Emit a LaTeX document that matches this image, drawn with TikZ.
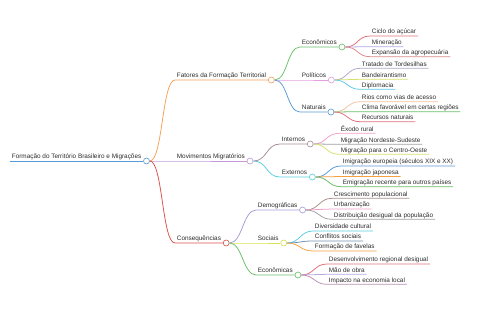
\documentclass[tikz,border=0pt]{standalone}
\usepackage{fontspec}
\setmainfont{Liberation Sans}
\usepackage{xcolor}
\usetikzlibrary{positioning}

\definecolor{ink}{HTML}{2B2B2B}
\definecolor{cRoot}{HTML}{5B9BD5}
\definecolor{cFat}{HTML}{F4A259}
\definecolor{cMov}{HTML}{C49BD8}
\definecolor{cCon}{HTML}{D9534F}
\definecolor{cGreen}{HTML}{6ABF69}
\definecolor{cPink}{HTML}{E39FE0}
\definecolor{cBlue}{HTML}{5A9BD4}
\definecolor{cMauve}{HTML}{A88E9E}
\definecolor{cCyan}{HTML}{5ACFE0}
\definecolor{cLav}{HTML}{A99BD8}
\definecolor{cYel}{HTML}{D8E050}
\definecolor{cRed}{HTML}{E0707A}
\definecolor{cLilac}{HTML}{B7A6E0}
\definecolor{cRose}{HTML}{D98A8A}
\definecolor{cGrayLav}{HTML}{B0A8C8}
\definecolor{cLime}{HTML}{D6E06A}
\definecolor{cSky}{HTML}{5CC8E8}
\definecolor{cPeach}{HTML}{F5C2A0}
\definecolor{cCandy}{HTML}{F2A0C8}
\definecolor{cGray}{HTML}{A0A0A0}
\definecolor{cOrange}{HTML}{F5A040}
\definecolor{cBrown}{HTML}{A89088}
\definecolor{cSteel}{HTML}{7090B0}
\definecolor{cPlum}{HTML}{B890B0}

\begin{document}
\begin{tikzpicture}[
    x=0.05cm, y=-0.05cm,
    topic/.style={anchor=south west, inner xsep=2.5pt, inner ysep=1.2pt, text height=1.55ex, text depth=.35ex, text=ink, font=\fontsize{9.1}{10}\selectfont},
    dot/.style={circle, anchor=west, draw=#1, fill=white, line width=0.9pt, minimum size=0.3cm, inner sep=0pt},
    link/.style={line width=1.1pt, line join=round, draw=#1}
]
    \useasboundingbox (0,0) rectangle (480,320);

    % root and main branches
    \node (root) [topic] at (10,161) {Formação do Território Brasileiro e Migrações};
    \node (root_c) [dot=cRoot] at (root.south east) {};
    \node (fatores) [topic] at (175,80) {Fatores da Formação Territorial};
    \node (fatores_c) [dot=cFat] at (fatores.south east) {};
    \node (movim) [topic] at (175,161) {Movimentos Migratórios};
    \node (movim_c) [dot=cMov] at (movim.south east) {};
    \node (conseq) [topic] at (175,243) {Consequências};
    \node (conseq_c) [dot=cCon] at (conseq.south east) {};

    % second level
    \node (econ) [topic] at (300,47) {Econômicos};
    \node (econ_c) [dot=cGreen] at (econ.south east) {};
    \node (polit) [topic] at (300,80) {Políticos};
    \node (polit_c) [dot=cPink] at (polit.south east) {};
    \node (natur) [topic] at (300,112) {Naturais};
    \node (natur_c) [dot=cBlue] at (natur.south east) {};
    \node (intern) [topic] at (280,144) {Internos};
    \node (intern_c) [dot=cMauve] at (intern.south east) {};
    \node (extern) [topic] at (280,177) {Externos};
    \node (extern_c) [dot=cCyan] at (extern.south east) {};
    \node (demog) [topic] at (256,210) {Demográficas};
    \node (demog_c) [dot=cLav] at (demog.south east) {};
    \node (socia) [topic] at (256,243) {Sociais};
    \node (socia_c) [dot=cYel] at (socia.south east) {};
    \node (econo) [topic] at (256,275) {Econômicas};
    \node (econo_c) [dot=cGreen] at (econo.south east) {};

    % leaves
    \node (acucar) [topic] at (370,36) {Ciclo do açúcar};
    \node (minera) [topic] at (370,46.7) {Mineração};
    \node (agro) [topic] at (370,56.7) {Expansão da agropecuária};
    \node (tordes) [topic] at (360,68.3) {Tratado de Tordesilhas};
    \node (bandei) [topic] at (360,79.3) {Bandeirantismo};
    \node (diplo) [topic] at (360,89.3) {Diplomacia};
    \node (rios) [topic] at (360,101.7) {Rios como vias de acesso};
    \node (clima) [topic] at (360,111.7) {Clima favorável em certas regiões};
    \node (recur) [topic] at (360,121.7) {Recursos naturais};
    \node (exodo) [topic] at (339,133.3) {Êxodo rural};
    \node (ne_se) [topic] at (339,144.3) {Migração Nordeste-Sudeste};
    \node (c_oeste) [topic] at (339,154.3) {Migração para o Centro-Oeste};
    \node (europ) [topic] at (341,166) {Imigração europeia (séculos XIX e XX)};
    \node (japon) [topic] at (341,176.5) {Imigração japonesa};
    \node (emigr) [topic] at (341,186.7) {Emigração recente para outros países};
    \node (cresc) [topic] at (332,198.3) {Crescimento populacional};
    \node (urban) [topic] at (332,209) {Urbanização};
    \node (distr) [topic] at (332,219.3) {Distribuição desigual da população};
    \node (divers) [topic] at (313,231) {Diversidade cultural};
    \node (confl) [topic] at (313,241) {Conflitos sociais};
    \node (favel) [topic] at (313,251) {Formação de favelas};
    \node (desenv) [topic] at (327,264) {Desenvolvimento regional desigual};
    \node (mao) [topic] at (327,274.3) {Mão de obra};
    \node (impac) [topic] at (327,284.3) {Impacto na economia local};

    % connectors
    \draw [link=cRoot] (root.south west) -- (root.south east);
    \draw [link=cFat] (root_c.east) .. controls +(13,0) and +(-13,0) .. (fatores.south west) -- (fatores.south east);
    \draw [link=cMov] (root_c.east) .. controls +(13,0) and +(-13,0) .. (movim.south west) -- (movim.south east);
    \draw [link=cCon] (root_c.east) .. controls +(13,0) and +(-13,0) .. (conseq.south west) -- (conseq.south east);

    \draw [link=cGreen] (fatores_c.east) .. controls +(13,0) and +(-13,0) .. (econ.south west) -- (econ.south east);
    \draw [link=cPink] (fatores_c.east) .. controls +(13,0) and +(-13,0) .. (polit.south west) -- (polit.south east);
    \draw [link=cBlue] (fatores_c.east) .. controls +(13,0) and +(-13,0) .. (natur.south west) -- (natur.south east);
    \draw [link=cMauve] (movim_c.east) .. controls +(14,0) and +(-14,0) .. (intern.south west) -- (intern.south east);
    \draw [link=cCyan] (movim_c.east) .. controls +(14,0) and +(-14,0) .. (extern.south west) -- (extern.south east);
    \draw [link=cLav] (conseq_c.east) .. controls +(13,0) and +(-13,0) .. (demog.south west) -- (demog.south east);
    \draw [link=cYel] (conseq_c.east) .. controls +(13,0) and +(-13,0) .. (socia.south west) -- (socia.south east);
    \draw [link=cGreen] (conseq_c.east) .. controls +(13,0) and +(-13,0) .. (econo.south west) -- (econo.south east);

    \draw [link=cRed] (econ_c.east) .. controls +(13,0) and +(-13,0) .. (acucar.south west) -- (acucar.south east);
    \draw [link=cLilac] (econ_c.east) .. controls +(13,0) and +(-13,0) .. (minera.south west) -- (minera.south east);
    \draw [link=cRose] (econ_c.east) .. controls +(13,0) and +(-13,0) .. (agro.south west) -- (agro.south east);
    \draw [link=cGrayLav] (polit_c.east) .. controls +(13,0) and +(-13,0) .. (tordes.south west) -- (tordes.south east);
    \draw [link=cLime] (polit_c.east) .. controls +(13,0) and +(-13,0) .. (bandei.south west) -- (bandei.south east);
    \draw [link=cSky] (polit_c.east) .. controls +(13,0) and +(-13,0) .. (diplo.south west) -- (diplo.south east);
    \draw [link=cPeach] (natur_c.east) .. controls +(13,0) and +(-13,0) .. (rios.south west) -- (rios.south east);
    \draw [link=cGreen] (natur_c.east) .. controls +(13,0) and +(-13,0) .. (clima.south west) -- (clima.south east);
    \draw [link=cRed] (natur_c.east) .. controls +(13,0) and +(-13,0) .. (recur.south west) -- (recur.south east);
    \draw [link=cCandy] (intern_c.east) .. controls +(13,0) and +(-13,0) .. (exodo.south west) -- (exodo.south east);
    \draw [link=cGray] (intern_c.east) .. controls +(13,0) and +(-13,0) .. (ne_se.south west) -- (ne_se.south east);
    \draw [link=cLime] (intern_c.east) .. controls +(13,0) and +(-13,0) .. (c_oeste.south west) -- (c_oeste.south east);
    \draw [link=cBlue] (extern_c.east) .. controls +(13,0) and +(-13,0) .. (europ.south west) -- (europ.south east);
    \draw [link=cOrange] (extern_c.east) .. controls +(13,0) and +(-13,0) .. (japon.south west) -- (japon.south east);
    \draw [link=cGreen] (extern_c.east) .. controls +(13,0) and +(-13,0) .. (emigr.south west) -- (emigr.south east);
    \draw [link=cBrown] (demog_c.east) .. controls +(13,0) and +(-13,0) .. (cresc.south west) -- (cresc.south east);
    \draw [link=cCandy] (demog_c.east) .. controls +(13,0) and +(-13,0) .. (urban.south west) -- (urban.south east);
    \draw [link=cGray] (demog_c.east) .. controls +(13,0) and +(-13,0) .. (distr.south west) -- (distr.south east);
    \draw [link=cCyan] (socia_c.east) .. controls +(13,0) and +(-13,0) .. (divers.south west) -- (divers.south east);
    \draw [link=cSteel] (socia_c.east) .. controls +(13,0) and +(-13,0) .. (confl.south west) -- (confl.south east);
    \draw [link=cOrange] (socia_c.east) .. controls +(13,0) and +(-13,0) .. (favel.south west) -- (favel.south east);
    \draw [link=cRed] (econo_c.east) .. controls +(13,0) and +(-13,0) .. (desenv.south west) -- (desenv.south east);
    \draw [link=cLilac] (econo_c.east) .. controls +(13,0) and +(-13,0) .. (mao.south west) -- (mao.south east);
    \draw [link=cPlum] (econo_c.east) .. controls +(13,0) and +(-13,0) .. (impac.south west) -- (impac.south east);

\end{tikzpicture}
\end{document}
